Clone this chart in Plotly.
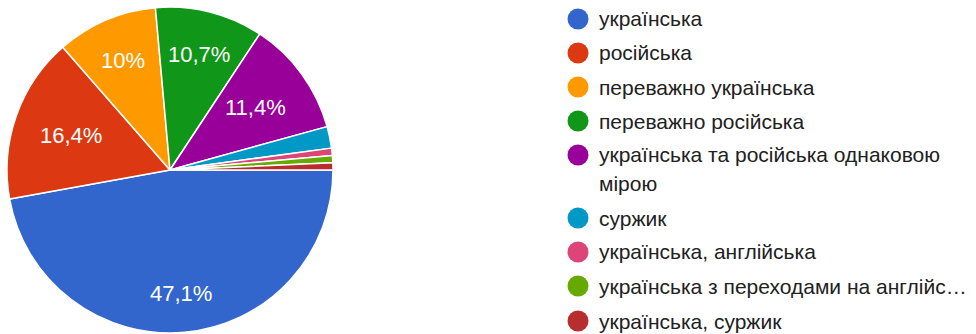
import math
import plotly.graph_objects as go

labels = [
    "українська",
    "російська",
    "переважно українська",
    "переважно російська",
    "українська та російська однаковою мірою",
    "суржик",
    "українська, англійська",
    "українська з переходами на англійську",
    "українська, суржик",
]
legend_labels = [
    "українська",
    "російська",
    "переважно українська",
    "переважно російська",
    "українська та російська однаковою<br>мірою",
    "суржик",
    "українська, англійська",
    "українська з переходами на англійс…",
    "українська, суржик",
]
counts = [66, 23, 14, 15, 16, 3, 1, 1, 1]
colors = ["#3366cc", "#dc3912", "#ff9900", "#109618", "#990099",
          "#0099c6", "#dd4477", "#66aa00", "#b82e2e"]

W, H = 976, 334
FONT = "Liberation Sans, Arial, sans-serif"

total = sum(counts)
texts = []
for c in counts:
    p = c / total * 100
    if p < 5:
        texts.append("")
    else:
        s = f"{p:.1f}".rstrip("0").rstrip(".").replace(".", ",")
        texts.append(s + "%")

# pie geometry (pixels)
CX, CY, R = 170, 170, 163
ROT = 90

fig = go.Figure()
fig.add_trace(go.Pie(
    labels=labels,
    values=counts,
    textinfo="none",
    sort=False,
    direction="clockwise",
    rotation=ROT,
    marker=dict(colors=colors, line=dict(color="white", width=1.5)),
    domain=dict(x=[(CX - R) / W, (CX + R) / W], y=[1 - (CY + R) / H, 1 - (CY - R) / H]),
    showlegend=False,
    hoverinfo="label+percent",
))

# percentage labels, placed like Google Charts (text box kept inside a fixed radius)
LFS = 22
cw = {"%": 0.889, ",": 0.278}
cum = 0.0
for c, t in zip(counts, texts):
    span = c / total * 360
    mid = math.radians(ROT + cum + span / 2)
    cum += span
    if not t:
        continue
    ux, uy = math.sin(mid), -math.cos(mid)
    w = LFS * sum(cw.get(ch, 0.556) for ch in t)
    h = LFS * 0.5
    extent = abs(ux) * w / 2 + abs(uy) * h
    d = 0.845 * R - extent
    px, py = CX + d * ux, CY + d * uy
    fig.add_annotation(xref="paper", yref="paper", x=px / W, y=1 - py / H,
                       text=t, showarrow=False, xanchor="center", yanchor="middle",
                       font=dict(family=FONT, size=LFS, color="white"))

# custom legend (circle markers + labels)
LEG_FS = 21
row_y = [19, 53, 87, 121, 155, 218, 252, 286, 321]
for lab, col, y in zip(legend_labels, colors, row_y):
    fig.add_shape(type="circle", xref="paper", yref="paper",
                  x0=567.5 / W, x1=588.5 / W, y0=1 - (y + 10.5) / H, y1=1 - (y - 10.5) / H,
                  fillcolor=col, line=dict(width=0))
    for k, line in enumerate(lab.split("<br>")):
        fig.add_annotation(xref="paper", yref="paper", x=597 / W, y=1 - (y + k * 28.5) / H,
                           text=line, showarrow=False, xanchor="left", yanchor="middle",
                           align="left",
                           font=dict(family=FONT, size=LEG_FS, color="#212121"))

fig.update_layout(width=W, height=H, margin=dict(l=0, r=0, t=0, b=0),
                  paper_bgcolor="white", plot_bgcolor="white")
fig.write_html("out.html")
